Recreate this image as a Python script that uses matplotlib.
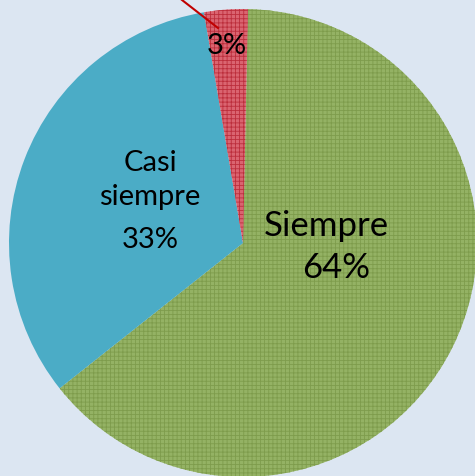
import matplotlib
matplotlib.use("Agg")
import matplotlib.pyplot as plt

categories = ["Siempre", "Casi siempre", "Otro"]
values = [64, 33, 3]
colors = ["#94B264", "#4BACC6", "#DA6470"]
hatch_colors = ["#7E9C4C", "#4BACC6", "#BC2E3C"]
hatches = ["++++", "", "++++"]

plt.rcParams["font.family"] = ["Lato", "DejaVu Sans"]
plt.rcParams["hatch.linewidth"] = 0.6

fig = plt.figure(figsize=(4.75, 4.76), dpi=100)
fig.patch.set_facecolor("#DCE6F2")
ax = fig.add_axes([0, 0, 1, 1])
ax.set_facecolor("#DCE6F2")

# center of pie in pixel terms -> data with radius 1
cx, cy, r = 243, 243, 234


def px(x, y):
    return (x - cx) / r, (cy - y) / r


wedges, _ = ax.pie(values, colors=colors, startangle=88.8, counterclock=False,
                   radius=1, wedgeprops=dict(linewidth=0))
for w, h, hc in zip(wedges, hatches, hatch_colors):
    if h:
        w.set_hatch(h)
        w.set_edgecolor(hc)
        w.set_linewidth(0)

ax.set_xlim((0 - cx) / r, (475 - cx) / r)
ax.set_ylim((cy - 476) / r, cy / r)
ax.set_aspect("auto")
ax.axis("off")

# labels
ax.text(*px(326, 226), "Siempre", fontsize=25, ha="center", va="center")
ax.text(*px(336, 268), "%d%%" % values[0], fontsize=25, ha="center", va="center")
ax.text(*px(150, 163), "Casi", fontsize=21, ha="center", va="center")
ax.text(*px(150, 197), "siempre", fontsize=21, ha="center", va="center")
ax.text(*px(150, 240), "%d%%" % values[1], fontsize=21, ha="center", va="center")
ax.text(*px(227, 46), "%d%%" % values[2], fontsize=21, ha="center", va="center")

# leader line for small slice
x0, y0 = px(182, 0)
x1, y1 = px(218, 28)
ax.plot([x0, x1], [y0, y1], color="#C00000", lw=1.5, clip_on=False)

fig.savefig("out.png", dpi=100, facecolor=fig.get_facecolor())
